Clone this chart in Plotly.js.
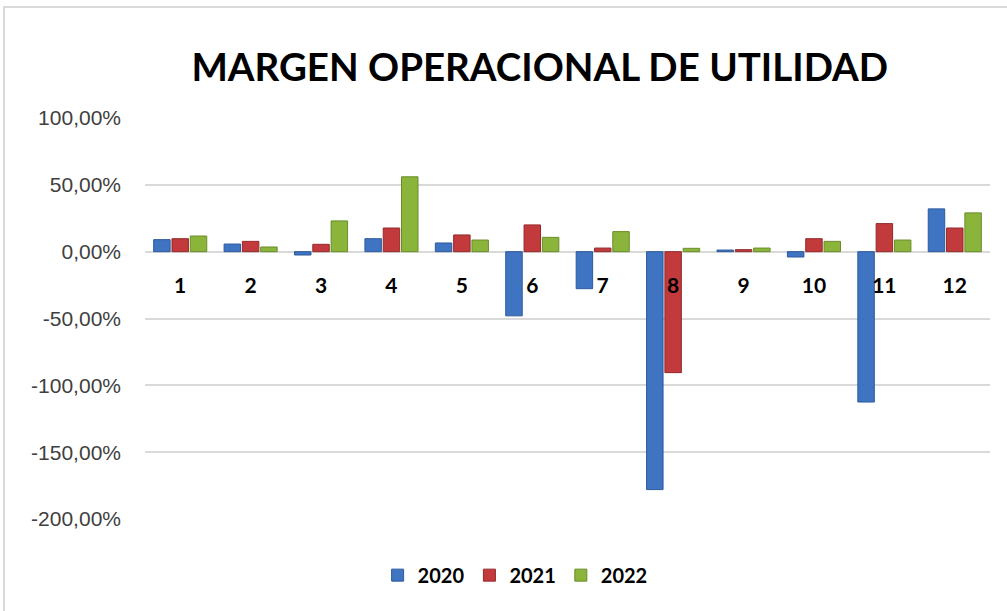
<!DOCTYPE html>
<html>
<head>
<meta charset="utf-8">
<script src="https://cdn.plot.ly/plotly-3.0.1.min.js"></script>
<style>
html,body{margin:0;padding:0;background:#fff;}
#wrap{position:relative;width:1007px;height:611px;}
#chart{position:absolute;left:0;top:0;width:1007px;height:611px;}
#frame{position:absolute;left:3px;top:6px;width:1010px;height:620px;border-left:2px solid #d9d9d9;border-top:2px solid #d9d9d9;pointer-events:none;}
</style>
</head>
<body>
<div id="wrap"><div id="chart"></div><div id="frame"></div></div>
<script>
const months = ['1','2','3','4','5','6','7','8','9','10','11','12'];
const series2020 = [9, 5.7, -2.5, 9.7, 6.5, -48, -27.7, -178, 1.2, -4, -112.5, 32];
const series2021 = [9.7, 7.7, 5.5, 17.7, 12.5, 20, 2.7, -90.5, 1.5, 9.7, 21, 17.7];
const series2022 = [11.7, 3.5, 23, 56, 8.7, 10.7, 15, 2.5, 2.7, 7.7, 8.7, 29];
const seriesNames = ['2020', '2021', '2022'];
const yTicks = [100, 50, 0, -50, -100, -150, -200];
const yTickText = yTicks.map(v => (v < 0 ? '-' : '') + Math.abs(v).toFixed(2).replace('.', ',') + '%');

const colors = ['#3F74C2', '#C23A3C', '#8BB43A'];
const lines = ['#2C5A9C', '#942A2C', '#6A8C2A'];
const data = [series2020, series2021, series2022].map((vals, i) => ({
  type: 'bar',
  name: seriesNames[i],
  x: months,
  y: vals,
  marker: {color: colors[i], line: {color: lines[i], width: 1}},
  hoverinfo: 'x+y+name'
}));

const layout = {
  width: 1007, height: 611,
  margin: {l: 145, r: 17, t: 118, b: 92},
  paper_bgcolor: '#ffffff', plot_bgcolor: '#ffffff',
  barmode: 'group',
  bargap: 0.22,
  bargroupgap: 0.1,
  title: {
    text: 'MARGEN OPERACIONAL DE UTILIDAD',
    font: {family: 'Lato, "Open Sans", sans-serif', size: 38.5, color: '#000', weight: 'bold'},
    x: 0.536, xanchor: 'center', y: 0.889, yanchor: 'middle'
  },
  xaxis: {
    type: 'category',
    anchor: 'free',
    position: 2/3,
    showline: false,
    showgrid: false,
    zeroline: false,
    ticks: 'outside',
    ticklen: 15,
    tickcolor: 'rgba(0,0,0,0)',
    tickfont: {family: 'Lato, "Open Sans", sans-serif', size: 21, color: '#000', weight: 'bold'}
  },
  yaxis: {
    range: [-200, 100],
    tickmode: 'array',
    tickvals: yTicks,
    ticktext: yTickText,
    showgrid: true,
    gridcolor: '#d9d9d9',
    gridwidth: 2,
    zeroline: true,
    zerolinecolor: '#d9d9d9',
    zerolinewidth: 2,
    showline: false,
    ticks: '',
    ticklabelstandoff: 23,
    tickfont: {family: '"Liberation Sans", Arial, sans-serif', size: 21, color: '#404040'}
  },
  legend: {
    orientation: 'h',
    x: 0.438, xanchor: 'center',
    y: -0.14, yanchor: 'middle',
    font: {family: 'Lato, "Open Sans", sans-serif', size: 20, color: '#000', weight: 'bold'},
    itemwidth: 30,
    traceorder: 'normal'
  },
  showlegend: true
};

Plotly.newPlot('chart', data, layout, {displayModeBar: false, staticPlot: true});
</script>
</body>
</html>
